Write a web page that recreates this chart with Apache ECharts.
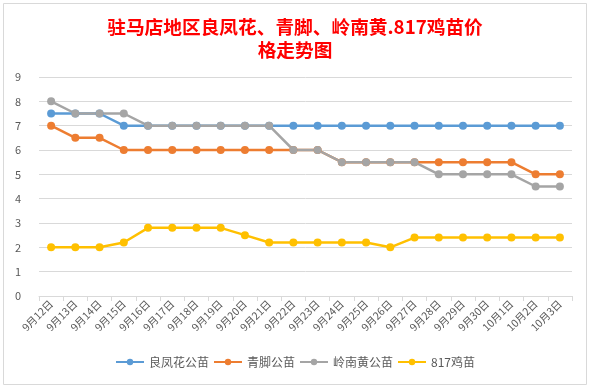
<!DOCTYPE html>
<html><head><meta charset="utf-8">
<script src="https://cdn.jsdelivr.net/npm/echarts@6/dist/echarts.min.js"></script>
<style>html,body{margin:0;padding:0;background:#fff}#c{width:590px;height:389px}</style>
</head><body><div id="c"></div>
<script>
const categories = ['9月12日','9月13日','9月14日','9月15日','9月16日','9月17日','9月18日','9月19日','9月20日','9月21日','9月22日','9月23日','9月24日','9月25日','9月26日','9月27日','9月28日','9月29日','9月30日','10月1日','10月2日','10月3日'];
const lianghuafeng = [7.5,7.5,7.5,7,7,7,7,7,7,7,7,7,7,7,7,7,7,7,7,7,7,7];
const qingjiao = [7,6.5,6.5,6,6,6,6,6,6,6,6,6,5.5,5.5,5.5,5.5,5.5,5.5,5.5,5.5,5,5];
const lingnan = [8,7.5,7.5,7.5,7,7,7,7,7,7,6,6,5.5,5.5,5.5,5.5,5,5,5,5,4.5,4.5];
const ji817 = [2,2,2,2.2,2.8,2.8,2.8,2.8,2.5,2.2,2.2,2.2,2.2,2.2,2.0,2.4,2.4,2.4,2.4,2.4,2.4,2.4];
const seriesNames = ['良凤花公苗','青脚公苗','岭南黄公苗','817鸡苗'];
const colors = ['#5B9BD5','#ED7D31','#A5A5A5','#FFC000'];
const yTicks = {min:0, max:9, interval:1};

const chart = echarts.init(document.getElementById('c'));
const mk = (name, data, color) => ({
  name, type:'line', data, symbol:'circle', symbolSize:8,
  lineStyle:{width:2.5, color}, itemStyle:{color}, color
});
chart.setOption({
  animation:false,
  textStyle:{fontFamily:'"Noto Sans CJK SC", "Noto Sans", sans-serif'},
  title:{
    text:'驻马店地区良凤花、青脚、岭南黄.817鸡苗价\n格走势图',
    left:'center', top:10,
    textStyle:{color:'#FF0000', fontSize:18.7, fontWeight:'bold', lineHeight:23,
      fontFamily:'"Noto Sans CJK SC", sans-serif'}
  },
  legend:{
    bottom:16, left:'center', itemWidth:28, itemHeight:8, itemGap:4,
    textStyle:{color:'#595959', fontSize:12},
    data:seriesNames
  },
  grid:{left:39, right:18, top:77, bottom:93, containLabel:false},
  xAxis:{
    type:'category', data:categories, boundaryGap:true,
    axisLine:{lineStyle:{color:'#d9d9d9'}},
    axisTick:{show:true, length:5, lineStyle:{color:'#d9d9d9'}},
    axisLabel:{rotate:45, color:'#595959', fontSize:10.5, interval:0, margin:6}
  },
  yAxis:{
    type:'value', min:yTicks.min, max:yTicks.max, interval:yTicks.interval,
    axisLine:{show:false}, axisTick:{show:false},
    splitLine:{lineStyle:{color:'#d9d9d9'}},
    axisLabel:{color:'#595959', fontSize:11, margin:18}
  },
  graphic:[{type:'rect', shape:{x:3.5,y:3.5,width:583,height:381}, style:{fill:null, stroke:'#d9d9d9', lineWidth:1}, silent:true}],
  series:[
    mk(seriesNames[0], lianghuafeng, colors[0]),
    mk(seriesNames[1], qingjiao, colors[1]),
    mk(seriesNames[2], lingnan, colors[2]),
    mk(seriesNames[3], ji817, colors[3])
  ]
});
</script></body></html>
